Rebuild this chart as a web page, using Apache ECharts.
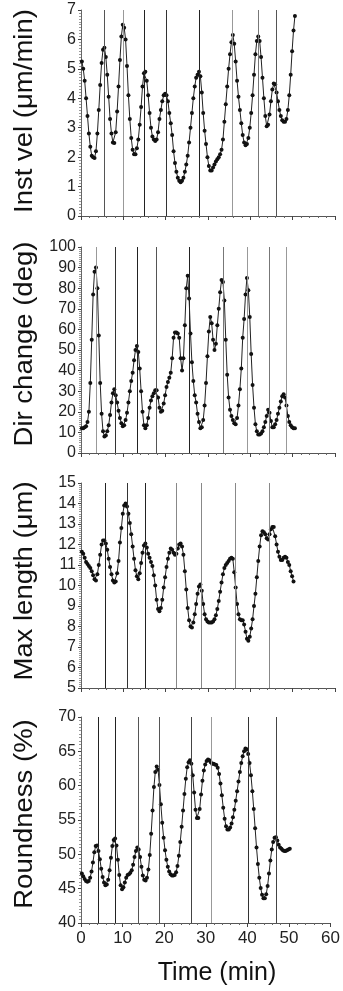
<!DOCTYPE html>
<html>
<head>
<meta charset="utf-8">
<script src="https://cdn.jsdelivr.net/npm/echarts@6/dist/echarts.min.js"></script>
<style>
  html, body { margin: 0; padding: 0; background: #fff; }
  #chart { width: 343px; height: 991px; }
</style>
</head>
<body>
<div id="chart"></div>
<script>
// one sample every 20 s, first one just after t = 0
const sampleStart = 0.2;
const sampleStep = 1 / 3;

const instVel = [
  5.25, 5.0, 4.6, 4.0, 3.4, 2.8, 2.35, 2.05, 2.0, 1.97,
  2.2, 2.8, 3.6, 4.45, 5.2, 5.65, 5.72, 5.4, 4.8, 4.05,
  3.3, 2.8, 2.5, 2.48, 2.85, 3.55, 4.4, 5.3, 6.1, 6.5,
  6.4, 6.0, 5.1, 4.1, 3.3, 2.65, 2.25, 2.1, 2.1, 2.3,
  2.6, 3.1, 3.7, 4.4, 4.85, 4.9, 4.6, 4.1, 3.5, 3.0,
  2.7, 2.6, 2.55, 2.6, 2.85, 3.3, 3.6, 3.9, 4.1, 4.15,
  4.1, 3.9, 3.5, 3.15, 2.75, 2.2, 1.8, 1.5, 1.3, 1.2,
  1.15, 1.2, 1.3, 1.5, 1.75, 2.05, 2.5, 3.0, 3.5, 4.0,
  4.4, 4.7, 4.8, 4.9, 4.75, 4.2, 3.5, 2.9, 2.45, 2.0,
  1.7, 1.55, 1.55, 1.65, 1.75, 1.85, 1.93, 2.0, 2.1, 2.25,
  2.6, 3.2, 3.8, 4.4, 5.0, 5.5, 5.9, 6.15, 5.85, 5.25,
  4.6, 4.05, 3.6, 3.15, 2.75, 2.5, 2.4, 2.45, 2.65, 3.0,
  3.5, 4.1, 4.8, 5.5, 5.95, 6.1, 5.95, 5.4, 4.7, 4.0,
  3.4, 3.05, 3.1, 3.45, 3.9, 4.3, 4.5, 4.48, 4.2, 3.9,
  3.6, 3.4, 3.25, 3.2, 3.2, 3.3, 3.6, 4.1, 4.8, 5.6,
  6.3, 6.8
];

const dirChange = [
  12, 12, 12.5, 13, 15, 20, 34, 55, 77, 88,
  90, 80, 57, 34, 19, 10.5, 8, 8.5, 10.5, 13.5,
  18.5, 24.5, 29, 31, 28, 24.5, 20.5, 17, 14.5, 13,
  13.5, 16, 19.5, 24.5, 30, 35, 39, 45, 50, 52,
  49, 41, 30, 20, 13.5, 12, 13.5, 17, 22, 25.5,
  27.5, 29, 30.5, 30.5, 27, 22, 20, 20.5, 24, 28,
  32, 34.5, 36.5, 39, 46, 56, 58.5, 58.5, 58, 56,
  46, 40, 46, 62, 80, 86, 75, 58, 44, 35,
  28, 24.5, 19, 15, 12, 12.5, 16, 23, 34, 47,
  59, 66, 63, 55, 50, 53, 62, 70, 78, 84,
  83, 74, 55, 38, 27, 21, 18, 16, 14.5, 14,
  17, 23, 31, 41, 56, 65, 77, 85, 79, 66,
  48, 33, 22, 14, 10.5, 9, 9, 9.5, 10.5, 12.5,
  15, 18, 21, 19.5, 15.5, 12.5, 12.5, 14, 16, 19,
  22, 25, 27.5, 28.5, 27, 23, 18, 15, 13.5, 12.5,
  12, 12
];

const maxLength = [
  11.65, 11.55, 11.35, 11.15, 11.05, 10.95, 10.85, 10.7, 10.5, 10.3,
  10.25, 10.55, 11.0, 11.5, 12.0, 12.2, 12.2, 12.05, 11.75, 11.3,
  10.9, 10.55, 10.25, 10.15, 10.2, 10.6, 11.2, 12.1, 12.8, 13.5,
  13.9, 14.0, 13.85, 13.5, 13.05, 12.5, 11.9, 11.3, 10.75, 10.45,
  10.3, 10.6, 11.1, 11.6, 11.95, 12.05, 11.85, 11.55, 11.35, 11.15,
  10.95, 10.5, 10.0, 9.3, 8.85, 8.75, 8.9, 9.3, 9.9, 10.4,
  10.9, 11.3, 11.6, 11.8, 11.75, 11.6, 11.5, 11.55, 11.8, 12.0,
  12.05, 11.9, 11.5, 10.7, 9.8, 8.9, 8.3, 8.0, 7.95, 8.2,
  8.6, 9.1, 9.6, 9.95, 10.05, 9.75, 9.1, 8.6, 8.35, 8.25,
  8.2, 8.2, 8.2, 8.25, 8.35, 8.55, 8.85, 9.25, 9.7, 10.15,
  10.55, 10.85, 11.0, 11.1, 11.2, 11.3, 11.35, 11.3, 10.65, 9.9,
  9.1, 8.6, 8.35, 8.3, 8.3, 8.1, 7.75, 7.4, 7.3, 7.5,
  7.9, 8.35, 9.0, 9.6, 10.4, 11.2, 11.9, 12.45, 12.65, 12.6,
  12.5, 12.3, 12.25, 12.5, 12.75, 12.85, 12.85, 12.4, 12.0, 11.65,
  11.4, 11.25, 11.25, 11.35, 11.4, 11.35, 11.15, 11.0, 10.7, 10.45,
  10.2
];

const roundness = [
  47.2, 46.8, 46.4, 46.1, 46.0, 46.1, 46.6, 47.5, 48.8, 50.3,
  51.2, 51.3, 50.5, 49.3, 47.9, 46.7, 45.9, 45.5, 45.6, 46.3,
  47.7, 49.5, 51.2, 52.1, 52.3, 51.3, 49.2, 47.0, 45.5, 44.9,
  45.2, 45.9, 46.6, 47.0, 47.1, 47.3, 47.7, 48.5, 49.6, 50.5,
  51.0, 50.7, 49.6, 48.2, 46.9, 46.3, 46.2, 46.6, 47.8, 49.9,
  53.0, 56.4, 59.8, 62.0, 62.8, 62.3, 60.1, 57.3, 54.6, 52.4,
  50.6, 49.2, 48.2, 47.5, 47.1, 46.9, 46.9, 47.0, 47.4, 48.3,
  49.8, 51.8, 54.0, 56.4, 58.8, 61.0, 62.7, 63.4, 63.7, 63.2,
  61.5, 59.0, 56.5, 55.3, 55.3, 56.6, 58.7, 60.7, 62.2, 63.1,
  63.6, 63.8, 63.7, 63.4, 63.2, 63.2, 63.1, 63.0, 62.6, 61.7,
  60.3, 58.6, 56.8, 55.2, 54.1, 53.6, 53.6, 53.9, 54.5, 55.4,
  56.5, 57.8, 59.2, 60.6, 62.0, 63.3, 64.3, 65.0, 65.4, 65.3,
  64.6, 63.3, 61.5, 59.2, 56.6, 53.8, 51.0, 48.6, 46.6, 45.1,
  44.1, 43.6, 43.6, 44.2, 45.4, 47.2, 49.1, 50.7, 51.8, 52.4,
  52.5, 52.0, 51.4, 51.0, 50.8, 50.6, 50.5, 50.5, 50.6, 50.7,
  50.8
];

// times (min) of the vertical event lines in each panel
const instVelEvents = [5.6, 10.0, 15.0, 20.1, 28.0, 35.7, 41.9, 46.2];
const dirChangeEvents = [3.5, 8.2, 13.4, 17.8, 25.6, 33.5, 39.3, 44.5, 48.6];
const maxLengthEvents = [5.7, 10.9, 15.1, 22.4, 28.5, 36.5, 44.5];
const roundnessEvents = [4.1, 8.35, 13.8, 18.7, 26.4, 31.2, 40.1, 46.9];

const yTitles = ["Inst vel (μm/min)", "Dir change (deg)", "Max length (μm)", "Roundness (%)"];
const yRanges = [[0, 7, 1], [0, 100, 10], [5, 15, 1], [40, 70, 5]];
const xTitle = "Time (min)";

// line shades as they look in the scan
const eventShades = [
  ["#555", "#999", "#222", "#333", "#222", "#999", "#777", "#555"],
  ["#999", "#333", "#222", "#555", "#222", "#777", "#999", "#777", "#999"],
  ["#222", "#333", "#222", "#888", "#888", "#888", "#888"],
  ["#222", "#222", "#555", "#555", "#444", "#999", "#333", "#444"]
];

const FONT = "'Liberation Sans', Arial, Helvetica, sans-serif";
const panels = [instVel, dirChange, maxLength, roundness];
const events = [instVelEvents, dirChangeEvents, maxLengthEvents, roundnessEvents];
const gridTops = [10, 247, 483, 717];
const gridHeights = [206, 206, 205, 206];
const titleCenters = [111, 344, 581, 814];

const chart = echarts.init(document.getElementById("chart"));

const grid = gridTops.map((top, i) => ({
  left: 81, top: top, width: 254, height: gridHeights[i]
}));

const xAxis = panels.map((_, i) => ({
  type: "value",
  gridIndex: i,
  min: 0,
  max: 60,
  interval: 10,
  axisLine: { show: true, onZero: false, lineStyle: { color: "#555", width: 1 } },
  axisTick: { show: true, length: 4, lineStyle: { color: "#444" } },
  minorTick: { show: true, splitNumber: 5, length: 2, lineStyle: { color: "#666" } },
  splitLine: { show: false },
  axisLabel: {
    show: i === 3,
    fontSize: 17,
    color: "#222",
    fontFamily: FONT,
    margin: 7
  }
}));

const yAxis = yRanges.map((r, i) => ({
  type: "value",
  gridIndex: i,
  min: r[0],
  max: r[1],
  interval: r[2],
  axisLine: { show: true, lineStyle: { color: "#666", width: 1 } },
  axisTick: { show: true, length: 3, lineStyle: { color: "#444" } },
  minorTick: { show: true, splitNumber: 10, length: 2, lineStyle: { color: "#999" } },
  splitLine: { show: false },
  axisLabel: { fontSize: 16, color: "#222", fontFamily: FONT, margin: 5 }
}));

const series = panels.map((vals, i) => ({
  type: "line",
  xAxisIndex: i,
  yAxisIndex: i,
  data: vals.map((v, k) => [sampleStart + k * sampleStep, v]),
  symbol: "circle",
  symbolSize: 4,
  showSymbol: true,
  itemStyle: { color: "#111" },
  lineStyle: { color: "#222", width: 1 },
  animation: false,
  z: 3,
  markLine: {
    silent: true,
    symbol: "none",
    label: { show: false },
    animation: false,
    data: events[i].map((t, j) => ({
      xAxis: t,
      lineStyle: { color: eventShades[i][j], width: 1, type: "solid" }
    }))
  }
}));

const graphic = yTitles.map((title, i) => ({
  type: "text",
  x: 25,
  y: titleCenters[i],
  rotation: Math.PI / 2,
  scaleX: 1.1,
  style: {
    text: title,
    font: "25px " + FONT,
    fill: "#111",
    textAlign: "center",
    textVerticalAlign: "middle"
  }
}));
graphic.push({
  type: "text",
  x: 217,
  y: 973,
  style: {
    text: xTitle,
    font: "25px " + FONT,
    fill: "#111",
    textAlign: "center",
    textVerticalAlign: "middle"
  }
});

chart.setOption({
  backgroundColor: "#fff",
  animation: false,
  grid: grid,
  xAxis: xAxis,
  yAxis: yAxis,
  series: series,
  graphic: graphic
});
</script>
</body>
</html>
